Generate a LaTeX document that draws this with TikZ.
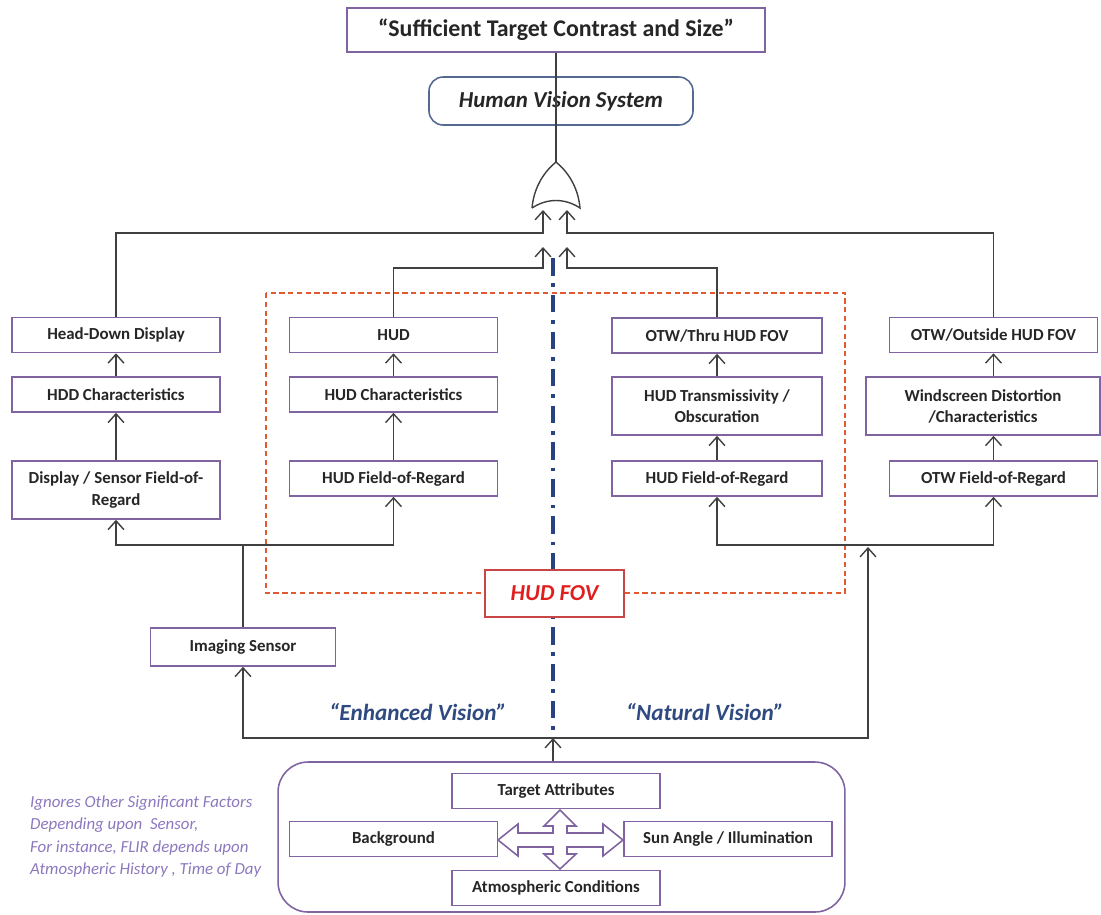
\documentclass[tikz,border=0pt]{standalone}
\usepackage{fontspec}
\setmainfont{Carlito}
\usetikzlibrary{arrows.meta}
\definecolor{boxc}{RGB}{128,100,162}
\definecolor{hvsc}{RGB}{84,104,145}
\definecolor{lnc}{RGB}{64,64,64}
\definecolor{txt}{RGB}{38,38,38}
\definecolor{redd}{RGB}{226,90,50}
\definecolor{fovb}{RGB}{200,70,70}
\definecolor{fovt}{RGB}{225,30,30}
\definecolor{blc}{RGB}{40,66,130}
\definecolor{evc}{RGB}{47,74,128}
\definecolor{notec}{RGB}{140,120,190}
\begin{document}
\begin{tikzpicture}[x=0.02cm,y=-0.02cm,
  bx/.style={draw=boxc, line width=0.9pt, fill=white, text=txt, font=\bfseries\fontsize{9.6}{12}\selectfont, align=center, inner sep=1pt, minimum width=4.16cm, minimum height=0.7cm},
  ln/.style={draw=lnc, line width=0.8pt},
  ar/.style={ln, -{Straight Barb[length=5pt,width=9pt]}},
  lbl/.style={font=\bfseries\itshape\fontsize{13.2}{15}\selectfont, text=evc}
]
\useasboundingbox (0,0) rectangle (1101,914);

% top
\node[bx, minimum width=8.36cm, minimum height=0.88cm, font=\bfseries\fontsize{13.6}{15}\selectfont] (top) at (556,30) {“Sufficient Target Contrast and Size”};
\node[bx, draw=hvsc, rounded corners=8pt, minimum width=5.28cm, minimum height=0.96cm, font=\bfseries\itshape\fontsize{13}{15}\selectfont] (hvs) at (561,101) {Human Vision System};

% OR gate
\coordinate (orTop) at (556,162);
\draw[ln] (top.south -| orTop) -- (hvs.south -| orTop);
\draw[ln] (hvs.south -| orTop) -- (orTop);
\draw[ln, fill=white] (532,208) .. controls (534,186) and (545,171) .. (orTop) .. controls (567,171) and (578,186) .. (580,208) .. controls (565,198) and (547,198) .. (532,208);
\coordinate (orL) at (543,210);
\coordinate (orR) at (567,210);
\coordinate (orL2) at (543,247);
\coordinate (orR2) at (567,247);
\coordinate (jl) at (543,233);
\coordinate (jr) at (567,233);
\coordinate (jl2) at (543,268);
\coordinate (jr2) at (567,268);

% separators
\draw[blc, line width=2.1pt, dash pattern=on 10pt off 4.5pt on 2pt off 4.5pt] (553,258) -- (553,738);
\draw[redd, line width=0.9pt, dash pattern=on 3pt off 2pt] (266,293) rectangle (845,593);

% column 1
\node[bx] (hdd) at (116,335) {Head-Down Display};
\node[bx] (hddc) at (116,394.5) {HDD Characteristics};
\node[bx, minimum height=1.16cm] (dsfor) at (116,490) {Display / Sensor Field-of-\\Regard};
% column 2
\node[bx] (hud) at (393.5,335) {HUD};
\node[bx] (hudc) at (393.5,394.5) {HUD Characteristics};
\node[bx] (hudfor) at (393.5,478.5) {HUD Field-of-Regard};
% column 3
\node[bx, minimum width=4.2cm] (otwt) at (717,335.5) {OTW/Thru HUD FOV};
\node[bx, minimum width=4.2cm, minimum height=1.16cm] (hudt) at (717,406) {HUD Transmissivity /\\Obscuration};
\node[bx, minimum width=4.2cm] (hudfor2) at (717,478.5) {HUD Field-of-Regard};
% column 4
\node[bx] (otwo) at (993.5,335) {OTW/Outside HUD FOV};
\node[bx, minimum width=4.68cm, minimum height=1.16cm] (ws) at (983,406) {Windscreen Distortion\\/Characteristics};
\node[bx] (otwfor) at (993.5,478.5) {OTW Field-of-Regard};

% to OR gate
\draw[ar] (hdd.north) |- (jl) -- (orL);
\draw[ar] (otwo.north) |- (jr) -- (orR);
\draw[ar] (hud.north) |- (jl2) -- (orL2);
\draw[ar] (otwt.north) |- (jr2) -- (orR2);

% column arrows
\draw[ar] (hddc.north) -- (hdd.south);
\draw[ar] (dsfor.north) -- (hddc.south);
\draw[ar] (hudc.north) -- (hud.south);
\draw[ar] (hudfor.north) -- (hudc.south);
\draw[ar] (hudt.north) -- (otwt.south);
\draw[ar] (hudfor2.north) -- (hudt.south);
\draw[ar] (ws.north -| otwo.south) -- (otwo.south);
\draw[ar] (otwfor.north) -- (ws.south -| otwfor.north);

% HUD FOV
\node[draw=fovb, fill=white, line width=0.9pt, minimum width=2.78cm, minimum height=0.94cm, text=fovt, font=\bfseries\itshape\fontsize{13}{15}\selectfont] (fov) at (554.5,593.5) {HUD FOV};

% imaging sensor and buses
\node[bx, minimum width=3.7cm, minimum height=0.76cm] (img) at (243,647) {Imaging Sensor};
\coordinate (busL) at (243,545);
\coordinate (busR) at (868,545);
\coordinate (busRt) at (868,547);
\coordinate (bb) at (553,738);
\draw[ln] (img.north) -- (busL);
\draw[ar] (busL) -| (dsfor.south);
\draw[ar] (busL) -| (hudfor.south);
\draw[ar] (busR) -| (hudfor2.south);
\draw[ar] (busR) -| (otwfor.south);
\draw[ar] (bb) -| (img.south);
\draw[ar] (bb) -| (busRt);

\node[lbl] (ev) at (418,712) {“Enhanced Vision”};
\node[lbl] (nv) at (705,712) {“Natural Vision”};

% environment
\node[draw=boxc, line width=0.9pt, rounded corners=0.6cm, minimum width=11.34cm, minimum height=3cm] (env) at (561.5,837) {};
\draw[ar] (env.north -| bb) -- (bb);
\node[bx] (tgt) at (556,791) {Target Attributes};
\node[bx] (bg) at (393.5,839) {Background};
\node[bx] (sun) at (728,839) {Sun Angle / Illumination};
\node[bx] (atm) at (556,888) {Atmospheric Conditions};
\draw[boxc, line width=0.9pt, fill=white]
 (560,810) -- (576,826) -- (567,826) -- (567,833) -- (603,833) -- (603,824) -- (623,840) -- (603,856) -- (603,847) -- (567,847) -- (567,854) -- (576,854) -- (560,869) -- (544,854) -- (553,854) -- (553,847) -- (518,847) -- (518,856) -- (498,840) -- (518,824) -- (518,833) -- (553,833) -- (553,826) -- (544,826) -- cycle;

\node[anchor=west, align=left, text=notec, font=\itshape\fontsize{9.6}{12.6}\selectfont] (note) at (24,836.5) {Ignores Other Significant Factors\\Depending upon\ \ Sensor,\\For instance, FLIR depends upon\\Atmospheric History , Time of Day};
\end{tikzpicture}
\end{document}
